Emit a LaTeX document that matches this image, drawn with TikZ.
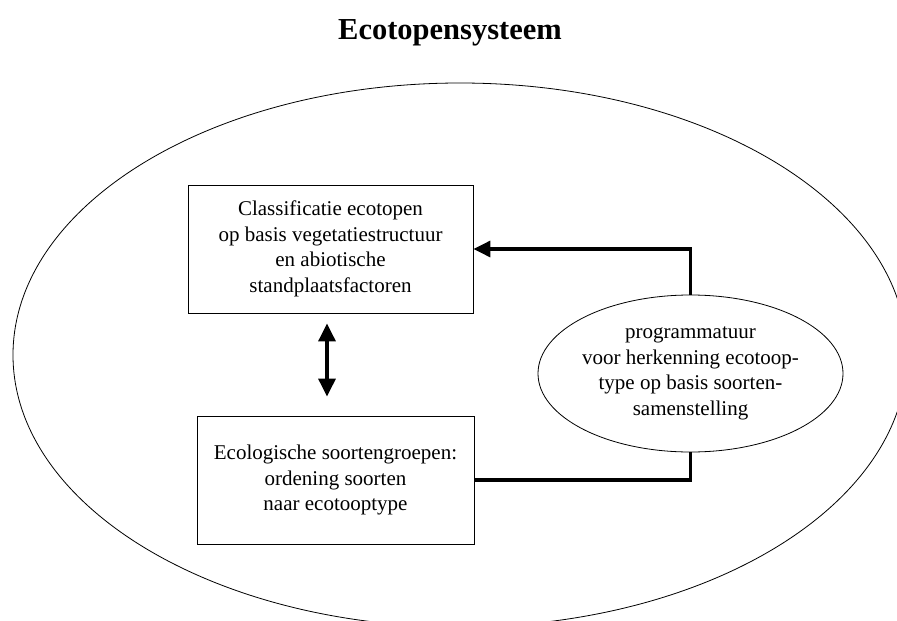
\documentclass[tikz,border=0pt]{standalone}
\usepackage{fontspec}
\setmainfont{Liberation Serif}
\usetikzlibrary{arrows.meta,shapes.geometric}
\begin{document}
\begin{tikzpicture}[x=1pt,y=-1pt,
  txt/.style={align=center,font=\fontsize{21}{25.5}\selectfont,inner sep=0pt},
  panel/.style={draw,line width=0.8pt,inner sep=0pt,txt},
  outline/.style={draw,line width=0.8pt},
  link/.style={line width=3.2pt},
  head/.style={-{Triangle[length=17pt,width=16pt]}},
  bothheads/.style={{Triangle[length=18pt,width=17pt]}-{Triangle[length=18pt,width=17pt]}}
]
\clip (0,0) rectangle (897,621);

% title
\node[anchor=base,font=\fontsize{30.5}{34}\selectfont\bfseries] (title) at (450,39) {Ecotopensysteem};

% surrounding system
\draw[outline] (460,355) ellipse [x radius=447pt, y radius=272pt];

% classification box
\node[panel,minimum width=285pt,minimum height=128pt] (classif) at (330.5,249)
  {Classificatie ecotopen\\op basis vegetatiestructuur\\en abiotische\\standplaatsfactoren};

% species groups box
\node[panel,minimum width=277pt,minimum height=128pt] (ecol) at (335.5,480)
  {Ecologische soortengroepen:\\ordening soorten\\naar ecotooptype};

% recognition software
\node[outline,ellipse,inner sep=0pt,minimum width=305pt,minimum height=157pt] (prog) at (690.5,373.5) {};
\node[txt] (progtext) at (prog.center)
  {programmatuur\\voor herkenning ecotoop-\\type op basis soorten-\\samenstelling};

% connectors
\draw[link,head] (prog.north) |- (classif.east);
\draw[link] (ecol.east) -| (prog.south);
\draw[link,bothheads] ([xshift=-3.5pt,yshift=-10pt]classif.south) -- ([xshift=-8.5pt,yshift=19pt]ecol.north);
\end{tikzpicture}
\end{document}
